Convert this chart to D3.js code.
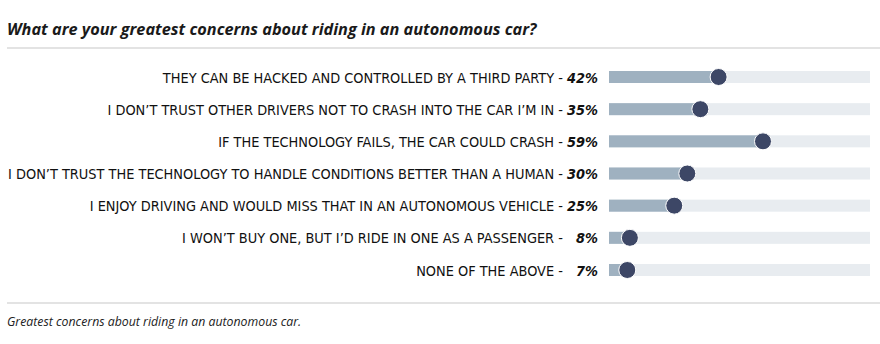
<!DOCTYPE html>
<html>
<head>
<meta charset="utf-8">
<script src="https://cdn.jsdelivr.net/npm/d3@7"></script>
<style>
  body { margin: 0; background: #fff; }
  svg { display: block; }
</style>
</head>
<body>
<script>
var width = 880
var height = 344

// answers and share of respondents (%)
var answers = [
  "THEY CAN BE HACKED AND CONTROLLED BY A THIRD PARTY",
  "I DON\u2019T TRUST OTHER DRIVERS NOT TO CRASH INTO THE CAR I\u2019M IN",
  "IF THE TECHNOLOGY FAILS, THE CAR COULD CRASH",
  "I DON\u2019T TRUST THE TECHNOLOGY TO HANDLE CONDITIONS BETTER THAN A HUMAN",
  "I ENJOY DRIVING AND WOULD MISS THAT IN AN AUTONOMOUS VEHICLE",
  "I WON\u2019T BUY ONE, BUT I\u2019D RIDE IN ONE AS A PASSENGER",
  "NONE OF THE ABOVE"
]
var shares = [42, 35, 59, 30, 25, 8, 7]

var title = "What are your greatest concerns about riding in an autonomous car?"
var caption = "Greatest concerns about riding in an autonomous car."

var data = answers.map((a, i) => ({answer: a, share: shares[i]}))

var svg = d3.select("body")
    .append("svg")
    .attr("width", width)
    .attr("height", height)

var x_scale = d3.scaleLinear()
    .domain([0, 100])
    .range([609, 870])

var y_scale = d3.scalePoint()
    .domain(answers)
    .range([77, 270])

svg.append("text")
    .attr("x", 7)
    .attr("y", 35)
    .text(title)
    .style("font-family", "Open Sans, sans-serif")
    .style("font-size", "16.3px")
    .style("font-weight", "bold")
    .style("font-style", "italic")
    .style("fill", "#1a1a1a")

svg.append("rect")
    .attr("x", 7).attr("y", 47)
    .attr("width", width - 7).attr("height", 2)
    .style("fill", "#e3e3e3")

var rows = svg.selectAll("g.row")
    .data(data)
    .enter()
    .append("g")
    .attr("class", "row")
    .attr("transform", (d) => "translate(0," + y_scale(d.answer) + ")")

// grey track
rows.append("rect")
    .attr("x", x_scale(0))
    .attr("y", -6)
    .attr("width", x_scale(100) - x_scale(0))
    .attr("height", 12)
    .style("fill", "#e8ecf0")

// filled part
rows.append("rect")
    .attr("x", x_scale(0))
    .attr("y", -6)
    .attr("width", (d) => x_scale(d.share) - x_scale(0))
    .attr("height", 12)
    .style("fill", "#9fb1c0")

rows.append("circle")
    .attr("cx", (d) => x_scale(d.share))
    .attr("cy", 0)
    .attr("r", 8.5)
    .style("fill", "#3d4766")
    .style("stroke", "#fff")
    .style("stroke-width", 1)

var labels = rows.append("text")
    .attr("x", 598)
    .attr("y", 5.5)
    .attr("text-anchor", "end")
    .style("font-family", "DejaVu Sans, sans-serif")
    .style("font-stretch", "condensed")
    .style("font-size", "14.4px")
    .style("fill", "#111")

labels.append("tspan")
    .text((d) => d.answer + " - ")

labels.append("tspan")
    .text((d) => (d.share < 10 ? "\u2007" : "") + d.share + "%")
    .style("font-weight", "bold")
    .style("font-style", "italic")

svg.append("rect")
    .attr("x", 7).attr("y", 302)
    .attr("width", width - 7).attr("height", 2)
    .style("fill", "#e3e3e3")

svg.append("text")
    .attr("x", 7)
    .attr("y", 326)
    .text(caption)
    .style("font-family", "Open Sans, sans-serif")
    .style("font-size", "12.3px")
    .style("font-style", "italic")
    .style("fill", "#222")
</script>
</body>
</html>
